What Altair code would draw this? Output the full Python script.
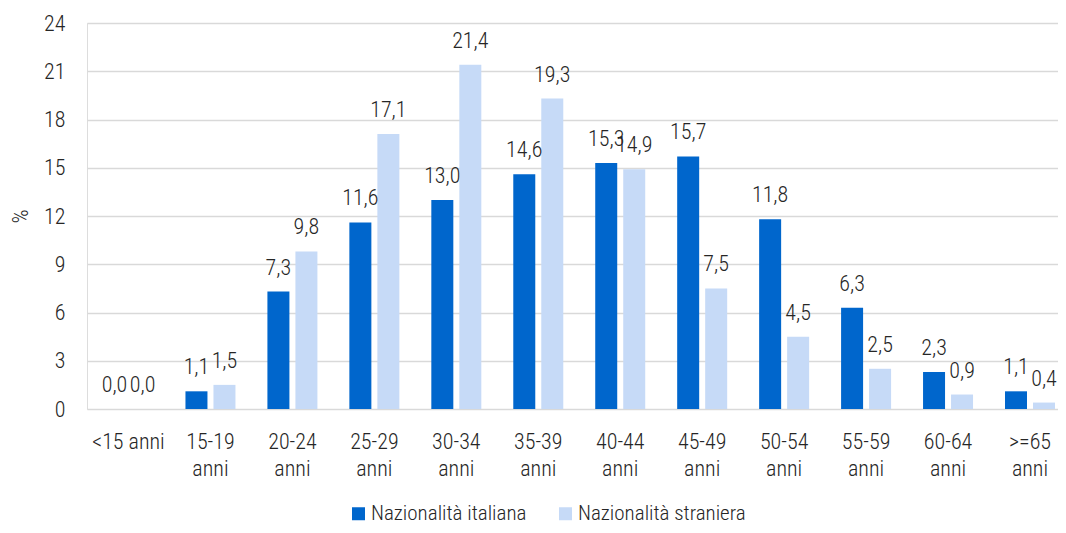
import altair as alt
import pandas as pd

categories = ["<15 anni", "15-19 anni", "20-24 anni", "25-29 anni", "30-34 anni", "35-39 anni",
              "40-44 anni", "45-49 anni", "50-54 anni", "55-59 anni", "60-64 anni", ">=65 anni"]
italiana = [0.0, 1.1, 7.3, 11.6, 13.0, 14.6, 15.3, 15.7, 11.8, 6.3, 2.3, 1.1]
straniera = [0.0, 1.5, 9.8, 17.1, 21.4, 19.3, 14.9, 7.5, 4.5, 2.5, 0.9, 0.4]
series_names = ["Nazionalità italiana", "Nazionalità straniera"]
series_colors = ["#0066CC", "#C6DAF7"]
y_ticks = [0, 3, 6, 9, 12, 15, 18, 21, 24]

rows = []
for c, a, b in zip(categories, italiana, straniera):
    for s, v in zip(series_names, (a, b)):
        rows.append({"cat": c, "serie": s, "val": v, "lbl": f"{v:.1f}".replace(".", ",")})
df = pd.DataFrame(rows)

FONT = "Roboto Condensed, Liberation Sans Narrow, Arial Narrow, sans-serif"
TXT = "#262626"
FS = 22
FS_LEG = 21
FW = 300

x_enc = alt.X(
    "cat:N", sort=categories, title=None,
    scale=alt.Scale(paddingInner=0.3167, paddingOuter=0.0824, align=1),
    axis=alt.Axis(labelAngle=0, domain=False, ticks=False, labelPadding=22,
                  labelLineHeight=27, labelFontSize=FS, labelColor=TXT, labelFont=FONT,
                  labelFontWeight=FW, labelLimit=200, labelBaseline="top",
                  labelExpr="datum.value == '<15 anni' ? datum.value : split(datum.value, ' ')"),
)
xoff_enc = alt.XOffset("serie:N", sort=series_names,
                       scale=alt.Scale(paddingInner=0.2143, paddingOuter=0.1071))
y_enc = alt.Y(
    "val:Q", scale=alt.Scale(domain=[0, 24], nice=False),
    axis=alt.Axis(values=y_ticks, title="%", grid=True, gridColor="#D9D9D9", gridWidth=1.3,
                  domain=False, ticks=False, labelPadding=22, labelFontSize=FS,
                  labelFontWeight=FW,
                  labelColor=TXT, labelFont=FONT, titleFont=FONT, titleFontSize=FS,
                  titleFontWeight=FW, titleColor=TXT, titleX=-55, titleY=193),
)

bars = alt.Chart(df).mark_bar().encode(
    x=x_enc, xOffset=xoff_enc, y=y_enc,
    color=alt.Color("serie:N", sort=series_names,
                    scale=alt.Scale(domain=series_names, range=series_colors),
                    legend=alt.Legend(title=None, orient="none", legendX=261, legendY=480,
                                      direction="horizontal", symbolType="square",
                                      symbolSize=169, symbolStrokeWidth=0,
                                      labelFontSize=FS_LEG, labelFont=FONT, labelColor=TXT,
                                      labelFontWeight=FW,
                                      labelLimit=400, columnPadding=28, labelOffset=2)),
)

labels = alt.Chart(df).mark_text(baseline="alphabetic", dy=-17, fontSize=FS, font=FONT,
                                 fontWeight=FW, color=TXT).encode(
    x=alt.X("cat:N", sort=categories), xOffset=alt.XOffset("serie:N", sort=series_names),
    y=alt.Y("val:Q"), text="lbl:N",
)

chart = alt.layer(bars, labels).properties(
    width=971, height=386,
    autosize=alt.AutoSizeParams(type="none"),
    padding={"left": 79, "top": 15, "right": 0, "bottom": 116},
).configure_view(stroke=None).configure(background="white")

chart.save("out.html", embed_options={"renderer": "svg", "actions": False})
